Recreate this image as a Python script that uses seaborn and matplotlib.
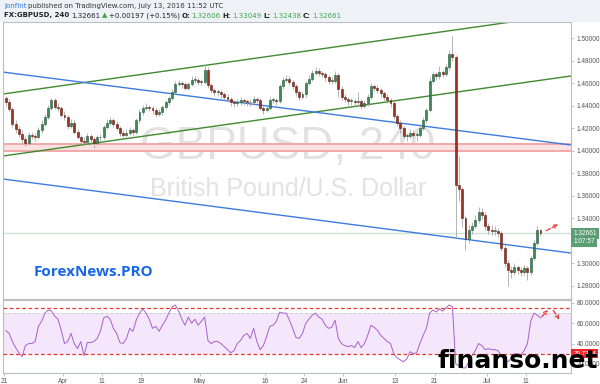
import numpy as np
import pandas as pd
import matplotlib
matplotlib.use("Agg")
import matplotlib.pyplot as plt
import seaborn as sns

sns.set_theme(style="white")
plt.rcParams["font.family"] = ["DejaVu Sans"]

# ---------------- data (12h candles, day index from Mar 21 2016) ----------------
close = [
    1.443, 1.437, 1.424, 1.419, 1.415, 1.410, 1.407, 1.414, 1.413, 1.412,
    1.418, 1.424, 1.430, 1.438, 1.445, 1.439, 1.438, 1.432, 1.430, 1.422,
    1.425, 1.417, 1.412, 1.409, 1.408, 1.413, 1.410, 1.407, 1.412, 1.412,
    1.421, 1.425, 1.427, 1.424, 1.420, 1.416, 1.414, 1.416, 1.418, 1.417,
    1.427, 1.434, 1.438, 1.439, 1.438, 1.436, 1.433, 1.434, 1.439, 1.443,
    1.447, 1.452, 1.459, 1.460, 1.459, 1.456, 1.459, 1.463, 1.463, 1.461,
    1.461, 1.472, 1.458, 1.454, 1.452, 1.452, 1.450, 1.448, 1.446, 1.443,
    1.442, 1.443, 1.445, 1.444, 1.443, 1.443, 1.446, 1.445, 1.438, 1.436,
    1.438, 1.445, 1.445, 1.444, 1.457, 1.463, 1.464, 1.461, 1.457, 1.452,
    1.448, 1.450, 1.460, 1.464, 1.469, 1.471, 1.469, 1.468, 1.465, 1.462,
    1.462, 1.467, 1.455, 1.448, 1.446, 1.444, 1.444, 1.443, 1.444, 1.440,
    1.442, 1.448, 1.457, 1.456, 1.454, 1.451, 1.448, 1.445, 1.442, 1.431,
    1.425, 1.420, 1.413, 1.413, 1.416, 1.414, 1.414, 1.420, 1.427, 1.436,
    1.462, 1.468, 1.466, 1.470, 1.468, 1.474, 1.486, 1.483, 1.370, 1.366,
    1.340, 1.322, 1.330, 1.333, 1.3385, 1.346, 1.343, 1.333, 1.330, 1.329,
    1.329, 1.327, 1.314, 1.300, 1.294, 1.292, 1.297, 1.294, 1.292, 1.296,
    1.292, 1.305, 1.318, 1.330, 1.32661,
]
high = [
    1.449, 1.446, 1.439, 1.427, 1.422, 1.418, 1.413, 1.417, 1.417, 1.416,
    1.421, 1.427, 1.433, 1.441, 1.447, 1.447, 1.442, 1.440, 1.435, 1.432,
    1.428, 1.427, 1.419, 1.414, 1.412, 1.416, 1.415, 1.412, 1.414, 1.415,
    1.423, 1.428, 1.430, 1.429, 1.426, 1.422, 1.418, 1.419, 1.421, 1.420,
    1.429, 1.437, 1.441, 1.442, 1.441, 1.440, 1.438, 1.437, 1.441, 1.445,
    1.449, 1.455, 1.462, 1.463, 1.462, 1.461, 1.461, 1.466, 1.466, 1.465,
    1.464, 1.477, 1.474, 1.460, 1.456, 1.455, 1.454, 1.452, 1.450, 1.448,
    1.445, 1.446, 1.448, 1.447, 1.446, 1.446, 1.449, 1.448, 1.447, 1.440,
    1.441, 1.448, 1.448, 1.447, 1.459, 1.465, 1.467, 1.466, 1.463, 1.459,
    1.454, 1.453, 1.462, 1.467, 1.472, 1.474, 1.473, 1.471, 1.470, 1.467,
    1.465, 1.471, 1.469, 1.457, 1.450, 1.448, 1.447, 1.446, 1.452, 1.446,
    1.445, 1.450, 1.460, 1.459, 1.458, 1.456, 1.453, 1.450, 1.447, 1.444,
    1.433, 1.427, 1.422, 1.416, 1.419, 1.418, 1.417, 1.423, 1.430, 1.438,
    1.465, 1.471, 1.470, 1.475, 1.472, 1.477, 1.489, 1.502, 1.485, 1.395,
    1.368, 1.342, 1.334, 1.337, 1.343, 1.350, 1.349, 1.346, 1.336, 1.334,
    1.333, 1.331, 1.329, 1.316, 1.303, 1.298, 1.300, 1.299, 1.297, 1.299,
    1.298, 1.307, 1.321, 1.333, 1.33049,
]
low = [
    1.440, 1.435, 1.421, 1.416, 1.412, 1.407, 1.404, 1.405, 1.410, 1.409,
    1.410, 1.416, 1.422, 1.428, 1.436, 1.437, 1.435, 1.430, 1.427, 1.419,
    1.420, 1.415, 1.410, 1.406, 1.405, 1.406, 1.407, 1.402, 1.405, 1.409,
    1.410, 1.419, 1.423, 1.421, 1.418, 1.413, 1.411, 1.412, 1.414, 1.414,
    1.415, 1.425, 1.432, 1.436, 1.435, 1.433, 1.430, 1.431, 1.432, 1.437,
    1.441, 1.445, 1.450, 1.457, 1.456, 1.454, 1.454, 1.457, 1.460, 1.458,
    1.458, 1.459, 1.456, 1.451, 1.449, 1.449, 1.447, 1.445, 1.443, 1.440,
    1.439, 1.440, 1.441, 1.441, 1.440, 1.440, 1.441, 1.442, 1.436, 1.433,
    1.434, 1.436, 1.442, 1.441, 1.442, 1.455, 1.461, 1.458, 1.455, 1.449,
    1.445, 1.446, 1.448, 1.458, 1.462, 1.467, 1.466, 1.465, 1.462, 1.459,
    1.459, 1.460, 1.448, 1.445, 1.443, 1.441, 1.441, 1.440, 1.440, 1.437,
    1.438, 1.440, 1.446, 1.453, 1.451, 1.448, 1.445, 1.442, 1.439, 1.428,
    1.422, 1.416, 1.410, 1.409, 1.411, 1.411, 1.409, 1.412, 1.418, 1.425,
    1.434, 1.460, 1.463, 1.464, 1.465, 1.466, 1.472, 1.480, 1.323, 1.355,
    1.332, 1.312, 1.318, 1.326, 1.331, 1.336, 1.339, 1.330, 1.326, 1.325,
    1.325, 1.323, 1.311, 1.297, 1.280, 1.287, 1.290, 1.291, 1.289, 1.290,
    1.285, 1.290, 1.303, 1.316, 1.32438,
]
first_open = 1.447

rsi = [
    53, 50, 42, 36, 31, 27, 38, 40, 40, 42,
    57, 62, 70, 73, 72, 67, 64, 53, 40, 42,
    50, 40, 35, 42, 28, 41, 41, 42, 45, 52,
    65, 67, 64, 55, 50, 41, 40, 45, 55, 52,
    63, 70, 74, 70, 64, 55, 57, 52, 58, 63,
    70, 76, 78, 72, 64, 58, 66, 60, 64, 58,
    62, 66, 43, 40, 42, 42, 40, 37, 34, 31,
    33, 40, 43, 48, 50, 45, 55, 42, 34, 38,
    47, 57, 58, 62, 71, 70, 70, 63, 55, 46,
    45, 50, 60, 64, 68, 70, 66, 64, 58, 55,
    56, 63, 45, 40, 38, 37, 38, 36, 42, 36,
    40, 48, 58, 56, 53, 48, 45, 42, 40, 30,
    26, 24, 22, 25, 32, 30, 31, 40, 48, 55,
    70, 73, 71, 74, 72, 75, 78, 76, 20, 18,
    16, 16, 22, 28, 33, 40, 38, 34, 35, 34,
    34, 33, 28, 24, 22, 25, 30, 30, 29, 33,
    40, 62, 70, 68, 65,
]

# trend lines: (day, price) endpoints
green_upper = ([-0.2, 77.7], [1.4503, 1.5142])
green_lower = ([-0.2, 86.9], [1.3953, 1.4663])
blue_upper = ([-0.2, 86.9], [1.4698, 1.4051])
blue_lower = ([-0.2, 86.9], [1.3749, 1.3092])
zone = (1.3997, 1.4064)
last_price = 1.32661
rsi_marks = (75.4, 30.0)

xtick_days = [0, 9, 15, 21, 30, 40, 46, 52, 60, 66, 74, 80]
xtick_labels = ["21", "Apr", "11", "19", "May", "16", "24", "Jun", "13", "21", "Jul", "11"]
price_ticks = [1.28, 1.30, 1.32, 1.34, 1.36, 1.38, 1.40, 1.42, 1.44, 1.46, 1.48, 1.50]
rsi_ticks = [20, 40, 60, 80]

# ---------------- figure ----------------
W, H = 600, 384
fig = plt.figure(figsize=(6, 3.84), dpi=100, facecolor="white")

def fx(x):
    return x / W

def fy(y):
    return 1 - y / H

# header band
fig.patches.append(plt.Rectangle((0, fy(21.7)), 1, 21.7 / H, transform=fig.transFigure,
                                 facecolor="#eef2f7", edgecolor="none", zorder=0))

ax = fig.add_axes([fx(2.7), fy(299), fx(571 - 2.7), (299 - 21.7) / H])
ax2 = fig.add_axes([fx(2.7), fy(372.7), fx(571 - 2.7), (372.7 - 300) / H])

xmin, xmax = -0.227, 86.93
for a in (ax, ax2):
    a.set_xlim(xmin, xmax)
    a.set_facecolor("white")
    for s in a.spines.values():
        s.set_color("#b9bec5")
        s.set_linewidth(0.8)
ax.set_ylim(1.2684, 1.5145)
ax2.set_ylim(11.3, 82.9)

TICKFONT = "Liberation Sans"

# zone and lines
ax.axhspan(zone[0], zone[1], color="#fbe1e1", zorder=1, lw=0)
ax.axhline(zone[1], color="#f0a3a3", lw=1.3, zorder=1.5)
ax.axhline(zone[0], color="#f0a3a3", lw=1.3, zorder=1.5)
ax.axhline(last_price, color="#cfe4d6", lw=1.0, zorder=1.5)

# watermark
ax.text(0.502, 0.548, "GBPUSD, 240", transform=ax.transAxes, ha="center", va="center",
        fontsize=33, color="#e2e2e2", family="Liberation Sans", zorder=0.5)
ax.text(0.502, 0.397, "British Pound/U.S. Dollar", transform=ax.transAxes, ha="center",
        va="center", fontsize=18, color="#e2e2e2", family="Liberation Sans", zorder=0.5)

for (xs_, ys_), col in [(green_upper, "#3f8a2e"), (green_lower, "#3f8a2e"),
                        (blue_upper, "#3d7be0"), (blue_lower, "#3d7be0")]:
    sns.lineplot(x=xs_, y=ys_, ax=ax, color=col, lw=1.0, zorder=2)

# candles
n = len(close)
days = np.arange(n) / 2 + 0.25
opens = [first_open] + close[:-1]
df = pd.DataFrame({"d": days, "o": opens, "c": close, "h": high, "l": low})
up = df["c"] >= df["o"]
ax.vlines(df["d"], df["l"], df["h"], color="#a8a8a8", lw=0.6, zorder=3)
body_b = np.minimum(df["o"], df["c"])
body_h = np.maximum(np.abs(df["c"] - df["o"]), 0.0006)
ax.bar(df["d"][up], body_h[up], bottom=body_b[up], width=0.3, color="#3b8a58",
       edgecolor="#24553a", lw=0.4, zorder=4)
ax.bar(df["d"][~up], body_h[~up], bottom=body_b[~up], width=0.3, color="#9a3322",
       edgecolor="#5e1d12", lw=0.4, zorder=4)

# price axis
ax.yaxis.tick_right()
ax.set_yticks(price_ticks)
ax.set_yticklabels(["" if abs(t - 1.32) < 1e-9 else f"{t:.5f}" for t in price_ticks],
                   family=TICKFONT)
ax.tick_params(axis="y", right=True, length=2.5, width=0.6, color="#b9bec5",
               labelsize=4.7, labelcolor="#555555", pad=1.5)
ax.set_xticks([])
ax.set_ylabel("")

# price labels
ax.text(1.004, last_price, "1.32661", transform=ax.get_yaxis_transform(), ha="left",
        va="center", fontsize=4.7, color="white", family=TICKFONT,
        bbox=dict(boxstyle="square,pad=0.3", fc="#5b9e74", ec="none"))
ax.text(1.004, last_price - 0.0072, "1:07:57", transform=ax.get_yaxis_transform(),
        ha="left", va="center", fontsize=4.7, color="white", family=TICKFONT,
        bbox=dict(boxstyle="square,pad=0.3", fc="#5b9e74", ec="none"))

# arrow on price
ax.annotate("", xy=(85.36, 1.3358), xytext=(82.76, 1.3279),
            arrowprops=dict(arrowstyle="->", color="#e53935", lw=0.9, ls="--",
                            mutation_scale=6))

# RSI panel
ax2.axhspan(30, 70, color="#f4e6fb", lw=0, zorder=1)
ax2.axhline(70, color="#cfcfcf", lw=0.7, ls=(0, (3, 2)), zorder=1.5)
ax2.axhline(rsi_marks[0], color="#e53935", lw=0.9, ls=(0, (3, 2)), zorder=3)
ax2.axhline(rsi_marks[1], color="#e53935", lw=0.9, ls=(0, (3, 2)), zorder=3)
rdf = pd.DataFrame({"d": days, "rsi": rsi})
sns.lineplot(data=rdf, x="d", y="rsi", ax=ax2, color="#a861cc", lw=0.7, zorder=2)
ax2.yaxis.tick_right()
ax2.set_yticks(rsi_ticks)
ax2.set_yticklabels([f"{t:.4f}" for t in rsi_ticks], family=TICKFONT)
ax2.tick_params(axis="y", right=True, length=2.5, width=0.6, color="#b9bec5",
                labelsize=4.7, labelcolor="#555555", pad=1.5)
ax2.set_xticks(xtick_days)
ax2.set_xticklabels(xtick_labels, family=TICKFONT)
ax2.tick_params(axis="x", bottom=True, length=2.5, width=0.6, color="#b9bec5",
                labelsize=4.7, labelcolor="#555555", pad=1)
ax2.set_xlabel("")
ax2.set_ylabel("")
ax2.text(1.004, rsi_marks[1], "29.7354", transform=ax2.get_yaxis_transform(), ha="left",
         va="center", fontsize=4.5, color="white", family=TICKFONT,
         bbox=dict(boxstyle="square,pad=0.3", fc="#f0262a", ec="none"))
ax2.annotate("", xy=(83.67, 75.1), xytext=(82.15, 64.2),
             arrowprops=dict(arrowstyle="->", color="#e53935", lw=0.9, ls="--",
                             mutation_scale=6))
ax2.annotate("", xy=(85.36, 61.3), xytext=(83.98, 75.1),
             arrowprops=dict(arrowstyle="->", color="#e53935", lw=0.9, ls="--",
                             mutation_scale=6))

# overlay texts
fig.text(fx(34), fy(272), "ForexNews.PRO", fontsize=11, fontweight="bold", color="#1767e6",
         ha="left", va="center", family="Open Sans")
fig.text(fx(598), fy(368), "finanso.net", fontsize=18, fontweight="bold", color="black",
         ha="right", va="baseline", family="DejaVu Sans", zorder=10)

# header
renderer = fig.canvas.get_renderer()

def segments(y, segs, x0=4.0):
    x = x0
    for txt, col, bold in segs:
        t = fig.text(fx(x), fy(y), txt, color=col, fontsize=5.0,
                     fontweight="bold" if bold else "normal", ha="left", va="center")
        x += t.get_window_extent(renderer=renderer).width + 1.6

segments(6, [("jonfint", "#2f7be0", False),
             ("published on TradingView.com, July 13, 2016 11:52 UTC", "#333333", False)])
G = "#3aa64a"
segments(15.5, [("FX:GBPUSD, 240", "#222222", True), ("1.32661", "#222222", False),
                ("\u25b2", G, False), ("+0.00197 (+0.15%)", "#222222", False),
                ("O:", "#222222", True), ("1.32606", G, False), ("H:", "#222222", True),
                ("1.33049", G, False), ("L:", "#222222", True), ("1.32438", G, False),
                ("C:", "#222222", True), ("1.32661", G, False)])

fig.savefig("out.png", dpi=100, facecolor=fig.get_facecolor())
